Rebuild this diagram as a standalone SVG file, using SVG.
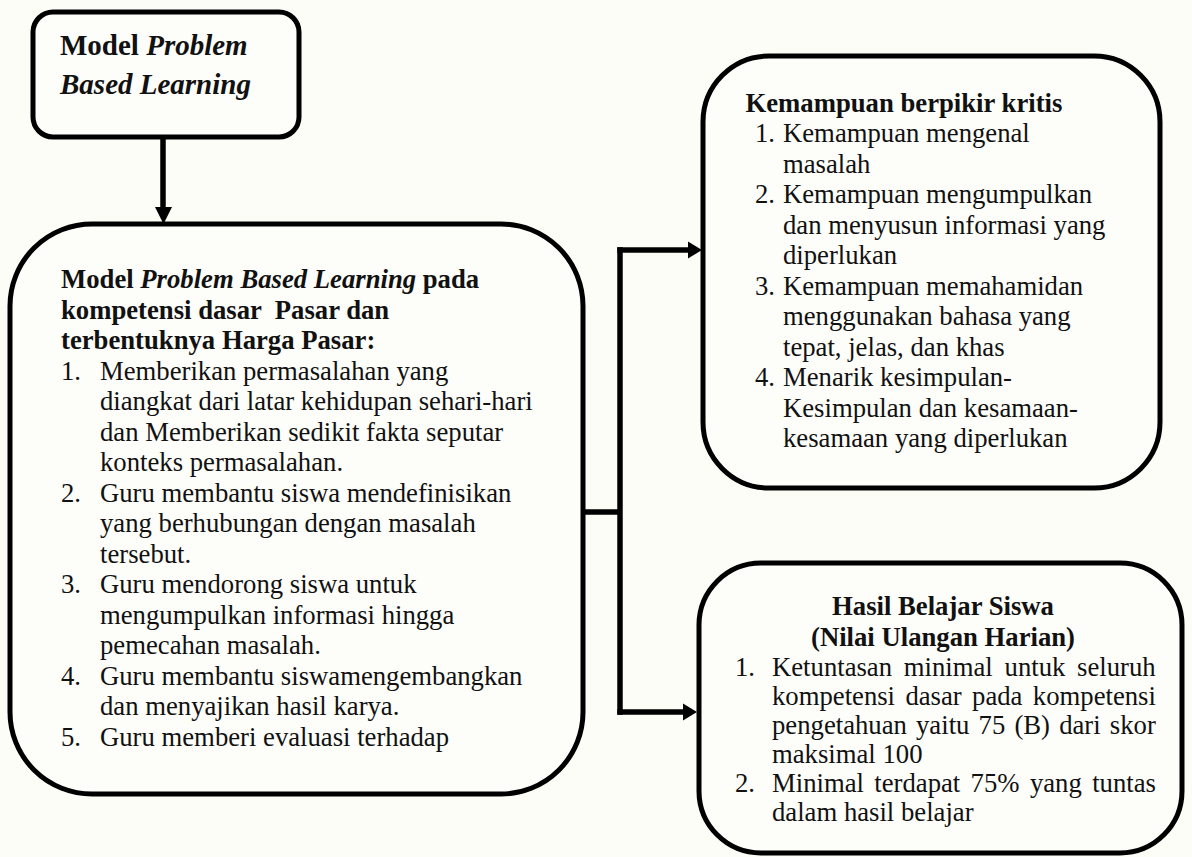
<svg xmlns="http://www.w3.org/2000/svg" width="1192" height="857" viewBox="0 0 1192 857">
<style>
.box{fill:#fdfdf9;stroke:#000;stroke-width:5}
.con{fill:none;stroke:#000;stroke-width:5.5}
.head{fill:#000}
text{font-family:"Liberation Serif","Times New Roman",serif;font-size:26.7px;fill:#111}
.b{font-weight:bold}
.i{font-style:italic}
.t1{font-size:29px}
</style>
<rect width="1192" height="857" fill="#fdfdf8"/>
<g id="connectors">
<path class="con" d="M163,137 V209"/>
<polygon class="head" points="155,207 172,207 163.5,224"/>
<path class="con" d="M583,512 H620"/>
<path class="con" d="M620,247.3 V714.7"/>
<path class="con" d="M617.3,250 H690"/>
<polygon class="head" points="688,241.5 688,258.5 702,250"/>
<path class="con" d="M617.3,712 H685"/>
<polygon class="head" points="683,703.5 683,720.5 697,712"/>
</g>
<g id="node-pbl">
<rect class="box" x="33" y="12" width="266" height="125" rx="20"/>
<text class="b t1" x="60" y="55">Model <tspan class="i">Problem</tspan></text>
<text class="b i t1" x="60" y="94">Based Learning</text>
</g>
<g id="node-model">
<rect class="box" x="10" y="224" width="573" height="570" rx="82"/>
<text class="b" x="61" y="288">Model <tspan class="i">Problem Based Learning</tspan> pada</text>
<text class="b" x="61" y="318.5" style="white-space:pre">kompetensi dasar  Pasar dan</text>
<text class="b" x="61" y="349">terbentuknya Harga Pasar:</text>
<text x="61" y="379.5">1.</text><text x="100" y="379.5">Memberikan permasalahan yang</text>
<text x="100" y="410">diangkat dari latar kehidupan sehari-hari</text>
<text x="100" y="440.5">dan Memberikan sedikit fakta seputar</text>
<text x="100" y="471">konteks permasalahan.</text>
<text x="61" y="501.5">2.</text><text x="100" y="501.5">Guru membantu siswa mendefinisikan</text>
<text x="100" y="532">yang berhubungan dengan masalah</text>
<text x="100" y="562.5">tersebut.</text>
<text x="61" y="593">3.</text><text x="100" y="593">Guru mendorong siswa untuk</text>
<text x="100" y="623.5">mengumpulkan informasi hingga</text>
<text x="100" y="654">pemecahan masalah.</text>
<text x="61" y="684.5">4.</text><text x="100" y="684.5">Guru membantu siswamengembangkan</text>
<text x="100" y="715">dan menyajikan hasil karya.</text>
<text x="61" y="745.5">5.</text><text x="100" y="745.5">Guru memberi evaluasi terhadap</text>
</g>
<g id="node-kritis">
<rect class="box" x="703" y="56" width="457" height="432" rx="66"/>
<text class="b" x="745.5" y="111.5">Kemampuan berpikir kritis</text>
<text x="755" y="142">1.</text><text x="783" y="142">Kemampuan mengenal</text>
<text x="783" y="172.5">masalah</text>
<text x="755" y="203">2.</text><text x="783" y="203">Kemampuan mengumpulkan</text>
<text x="783" y="233.5">dan menyusun informasi yang</text>
<text x="783" y="264">diperlukan</text>
<text x="755" y="294.5">3.</text><text x="783" y="294.5">Kemampuan memahamidan</text>
<text x="783" y="325">menggunakan bahasa yang</text>
<text x="783" y="355.5">tepat, jelas, dan khas</text>
<text x="755" y="386">4.</text><text x="783" y="386">Menarik kesimpulan-</text>
<text x="783" y="416.5">Kesimpulan dan kesamaan-</text>
<text x="783" y="447">kesamaan yang diperlukan</text>
</g>
<g id="node-hasil">
<rect class="box" x="699" y="563" width="483" height="290" rx="62"/>
<text class="b" x="943" y="615" text-anchor="middle">Hasil Belajar Siswa</text>
<text class="b" x="943" y="646" text-anchor="middle">(Nilai Ulangan Harian)</text>
<text x="735" y="676">1.</text><text x="772" y="676" word-spacing="5.1">Ketuntasan minimal untuk seluruh</text>
<text x="772" y="705" word-spacing="3.7">kompetensi dasar pada kompetensi</text>
<text x="772" y="734" word-spacing="2.5">pengetahuan yaitu 75 (B) dari skor</text>
<text x="772" y="763">maksimal 100</text>
<text x="735" y="792">2.</text><text x="772" y="792" word-spacing="3.7">Minimal terdapat 75% yang tuntas</text>
<text x="772" y="821">dalam hasil belajar</text>
</g>
</svg>
